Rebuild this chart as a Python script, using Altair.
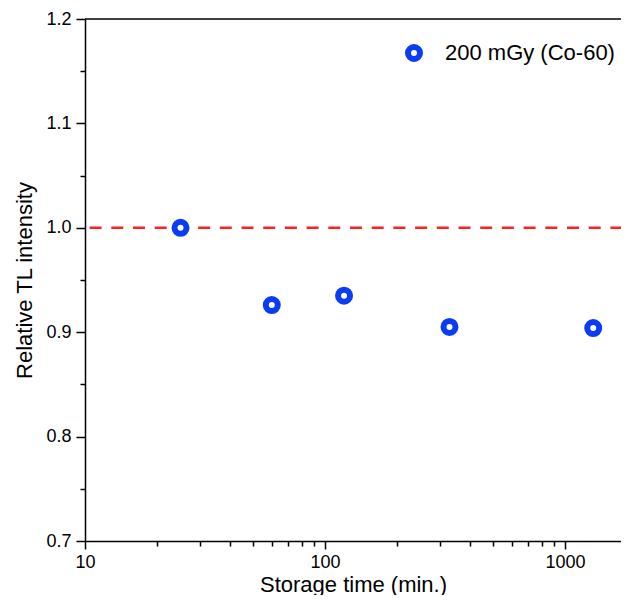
import altair as alt
import pandas as pd

# Data
storage_time = [25, 60, 120, 330, 1310]
relative_tl = [1.000, 0.926, 0.935, 0.905, 0.904]
series_name = "200 mGy (Co-60)"

x_major = [10, 100, 1000]
x_minor = [20, 30, 40, 50, 60, 70, 80, 90, 200, 300, 400, 500, 600, 700, 800, 900]
y_major = [0.7, 0.8, 0.9, 1.0, 1.1, 1.2]
y_minor = [0.75, 0.85, 0.95, 1.05, 1.15]

df = pd.DataFrame({"t": storage_time, "r": relative_tl, "series": [series_name] * len(storage_time)})

FONT = "Liberation Sans"
BLUE = "#0a3cf5"
RED = "#ff2020"

xscale = alt.Scale(type="log", domain=[10, 1710], nice=False)
yscale = alt.Scale(domain=[0.7, 1.2], nice=False, zero=False)

base = alt.Chart(df)

points = base.mark_point(
    shape="circle", size=144, strokeWidth=6, filled=True, fill="white", fillOpacity=1, opacity=1
).encode(
    x=alt.X("t:Q", scale=xscale, axis=alt.Axis(
        values=x_major, format="d", orient="bottom", title="Storage time (min.)",
        tickSize=8, tickWidth=1.5, tickColor="black", domainWidth=1.5, domainColor="black",
        labelFontSize=18, labelFont=FONT, labelColor="black", labelPadding=4,
        titleFontSize=22, titleFont=FONT, titleFontWeight="normal", titleColor="black",
        titlePadding=3, grid=False, labelFlush=False)),
    y=alt.Y("r:Q", scale=yscale, axis=alt.Axis(
        values=y_major, format=".1f", orient="left", title="Relative TL intensity",
        tickSize=9, tickWidth=1.5, tickColor="black", domainWidth=1.5, domainColor="black",
        labelFontSize=18, labelFont=FONT, labelColor="black", labelPadding=5,
        titleFontSize=22, titleFont=FONT, titleFontWeight="normal", titleColor="black",
        titlePadding=9, grid=False, labelFlush=False)),
    stroke=alt.Stroke("series:N", scale=alt.Scale(range=[BLUE]), legend=alt.Legend(
        orient="none", legendX=318, legendY=23, title=None, symbolType="circle",
        symbolSize=144, symbolStrokeWidth=6, symbolFillColor="white", labelLimit=400,
        labelFontSize=22, labelFont=FONT, labelColor="black", labelOffset=20, padding=0)),
)

minor = base.mark_point(opacity=0).encode(
    x=alt.X("t:Q", scale=xscale, axis=alt.Axis(
        values=x_minor, orient="bottom", labels=False, title=None, domain=False,
        tickSize=5, tickWidth=1.5, tickColor="black", grid=False)),
    y=alt.Y("r:Q", scale=yscale, axis=alt.Axis(
        values=y_minor, orient="left", labels=False, title=None, domain=False,
        tickSize=5, tickWidth=1.5, tickColor="black", grid=False)),
)

ref_line = alt.Chart(pd.DataFrame({"v": [1.0]})).mark_rule(
    color=RED, strokeWidth=2.5, strokeDash=[12, 9.7], strokeDashOffset=1.4
).encode(y=alt.Y("v:Q", scale=yscale, axis=None))

top_border = alt.Chart(pd.DataFrame({"v": [1.2]})).mark_rule(
    color="black", strokeWidth=1.5
).encode(y=alt.Y("v:Q", scale=yscale, axis=None))

chart = alt.layer(ref_line, top_border, minor, points).resolve_axis(
    x="independent", y="independent"
).resolve_scale(x="shared", y="shared").properties(
    width=536, height=522,
    autosize=alt.AutoSizeParams(type="none"),
    padding={"left": 77, "top": 11, "right": 0, "bottom": 54},
).configure_view(stroke=None)

chart.save("out.html", embed_options={"renderer": "svg", "actions": False})
